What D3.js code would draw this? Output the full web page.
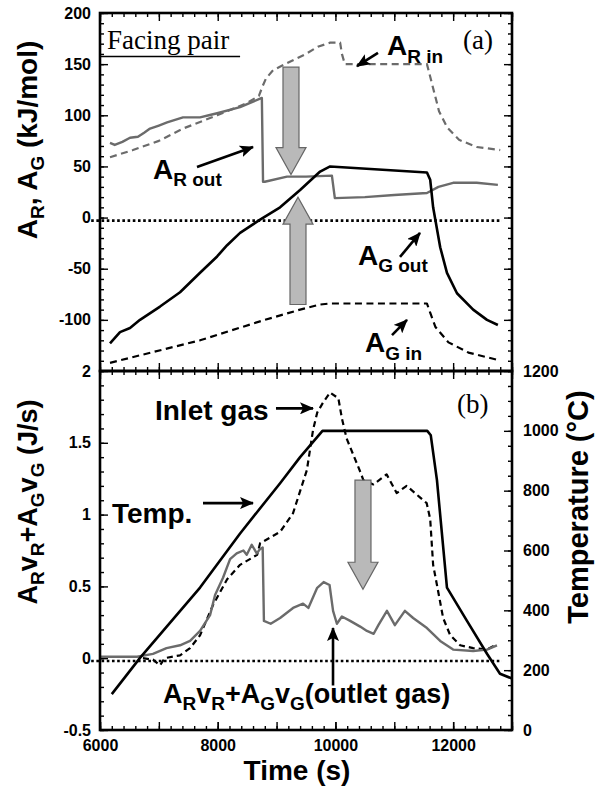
<!DOCTYPE html>
<html>
<head>
<meta charset="utf-8">
<script src="https://cdn.jsdelivr.net/npm/d3@7"></script>
<style>
  body { margin: 0; background: #fff; }
  svg text { font-family: "Liberation Sans", Arial, sans-serif; font-weight: bold; fill: #000; }
  svg text.serif { font-family: "Liberation Serif", "Times New Roman", serif; font-weight: normal; }
</style>
</head>
<body>
<svg id="chart" width="597" height="789"></svg>
<script>
// ---- data: [time (s), value] ----
// panel (a), kJ/mol
const arIn = [[6170,59],[6560,66],[7000,75],[7410,87],[7990,100],[8500,112],[8700,119],[8760,128],
  [8820,136],[8940,144],[9180,151],[9500,160],[9700,167],[9910,171],[10080,171],[10110,160],
  [10160,150],[11555,150],[11600,140],[11680,122],[11760,104],[11900,88],[12100,76],[12400,69],[12800,66]];
const arOut = [[6170,73],[6250,71],[6380,74],[6510,78],[6645,79],[6750,83],[6850,87],[7000,90],
  [7140,93],[7410,98],[7700,98],[7850,100],[7990,102],[8380,108],[8750,117],[8770,35],[8800,35],
  [9177,40],[9500,40],[9940,41],[9990,19],[10500,20],[11000,22],[11555,24],[11750,30],[12000,34],
  [12400,34],[12760,32]];
const agOut = [[6170,-123],[6340,-112],[6510,-108],[6680,-100],[7020,-87],[7360,-73],[7700,-54],
  [7990,-38],[8160,-27],[8380,-15],[8720,-2],[9060,10],[9400,27],[9740,45],[9910,50],[11555,44],
  [11610,37],[11660,10],[11780,-29],[11895,-54],[12065,-74],[12340,-90],[12575,-100],[12760,-105]];
const agIn = [[6170,-142],[7700,-120],[8800,-100],[9400,-90],[9740,-85],[9900,-84],[11555,-84],
  [11610,-93],[11700,-107],[11920,-122],[12260,-132],[12745,-139]];
const zeroA = [[5850,-3],[12830,-3]];

// panel (b), J/s
const inletGas = [[6730,0],[6900,-0.01],[7020,-0.05],[7100,0],[7360,0.02],[7530,0.07],[7700,0.16],
  [7920,0.37],[8160,0.55],[8380,0.65],[8670,0.72],[8720,0.8],[9060,0.88],[9280,1.01],[9515,1.31],
  [9620,1.59],[9690,1.71],[9790,1.78],[9910,1.85],[10050,1.81],[10110,1.67],[10190,1.53],
  [10420,1.3],[10475,1.24],[10645,1.21],[10870,1.28],[11040,1.15],[11210,1.2],[11436,1.12],
  [11550,1.08],[11610,0.97],[11660,0.65],[11725,0.51],[11830,0.28],[11950,0.16],[12120,0.09],
  [12340,0.07],[12575,0.06],[12710,0.09]];
const outletGas = [[6000,0.01],[6630,0.01],[6900,0.03],[7130,0.07],[7360,0.09],[7530,0.12],
  [7700,0.19],[7870,0.3],[7955,0.44],[8090,0.56],[8210,0.69],[8322,0.73],[8436,0.75],[8493,0.72],
  [8578,0.79],[8663,0.73],[8720,0.76],[8764,0.77],[8785,0.26],[8900,0.24],[9060,0.28],[9280,0.35],
  [9450,0.38],[9540,0.35],[9690,0.49],[9800,0.53],[9900,0.51],[9960,0.33],[10025,0.24],[10110,0.29],
  [10250,0.26],[10420,0.22],[10535,0.19],[10650,0.17],[10730,0.23],[10875,0.33],[11010,0.23],
  [11180,0.33],[11320,0.28],[11555,0.21],[11780,0.12],[12000,0.06],[12340,0.05],[12575,0.06],[12745,0.09]];
const zeroB = [[5850,-0.02],[12830,-0.02]];
// panel (b), temperature in deg C (right axis)
const temp = [[6200,120],[6680,241],[7700,476],[8380,657],[9060,825],[9400,912],[9780,1000],
  [11560,1000],[11620,985],[11725,835],[11895,476],[12235,365],[12575,255],[12796,188],[13000,172]];

// tick values
const xMajor = d3.range(6000, 13001, 1000);
const xMinor = d3.range(6000, 13001, 200);
const xLabels = [6000, 8000, 10000, 12000];
const aMajor = [-100, -50, 0, 50, 100, 150, 200];
const aMinor = d3.range(-150, 201, 10);
const pMajor = [-0.5, 0, 0.5, 1, 1.5, 2];
const pMinor = d3.range(-5, 21, 1).map(d => d / 10);
const tMajor = d3.range(0, 1201, 200);
const tMinor = d3.range(0, 1201, 50);

// annotations (data coordinates)
const blockArrows = [
  {panel: "a", t: 9245, from: 147, to: 42},
  {panel: "a", t: 9364, from: -85, to: 20},
  {panel: "b", t: 10468, from: 1.24, to: 0.48}
];
const thinArrows = [
  {panel: "a", t0: 7648, v0: 49.5, t1: 8600, v1: 69},
  {panel: "a", t0: 10723, v0: 161, t1: 10366, v1: 148},
  {panel: "a", t0: 11097, v0: -38.5, t1: 11437, v1: -15},
  {panel: "a", t0: 10961, v0: -115, t1: 11216, v1: -100},
  {panel: "b", t0: 8990, v0: 1.74, t1: 9619, v1: 1.74},
  {panel: "b", t0: 7750, v0: 1.08, t1: 8600, v1: 1.08},
  {panel: "b", t0: 9959, v0: -0.19, t1: 9959, v1: 0.21}
];

(function () {
  const svg = d3.select("#chart");
  const L = 100, R = 512, T = 13, M = 371, B = 730;
  const FONT = "Liberation Sans, Arial, sans-serif";

  const x = d3.scaleLinear().domain([6000, 13000]).range([L, R]);
  const yA = d3.scaleLinear().domain([-150, 200]).range([M, T]);
  const yP = d3.scaleLinear().domain([-0.5, 2]).range([B, M]);
  const yT = d3.scaleLinear().domain([0, 1200]).range([B, M]);
  const yOf = p => p === "a" ? yA : yP;

  const defs = svg.append("defs");
  defs.append("marker")
    .attr("id", "head")
    .attr("viewBox", "0 0 14 12")
    .attr("refX", 13).attr("refY", 6)
    .attr("markerWidth", 14).attr("markerHeight", 12)
    .attr("markerUnits", "userSpaceOnUse")
    .attr("orient", "auto")
    .append("path").attr("d", "M0,0 L14,6 L0,12 L3,6 z").attr("fill", "#000");

  function axis(gen, tx, ty, values, size, fmt, pad) {
    const g = svg.append("g").attr("transform", `translate(${tx},${ty})`)
      .call(gen.tickValues(values).tickSize(size).tickPadding(pad || 9)
        .tickFormat(fmt || (() => "")));
    g.select(".domain").remove();
    g.attr("font-size", 16).attr("font-family", FONT).attr("font-weight", "bold");
    g.selectAll(".tick line").attr("stroke", "#000").attr("stroke-width", 1.4);
    g.selectAll(".tick text").attr("fill", "#000");
    return g;
  }
  const num = d => String(d);

  // panel (a) ticks
  axis(d3.axisLeft(yA), L, 0, aMinor, -4);
  axis(d3.axisLeft(yA), L, 0, aMajor, -8, num, 9);
  axis(d3.axisRight(yA), R, 0, aMinor, -4);
  axis(d3.axisRight(yA), R, 0, aMajor, -8);
  axis(d3.axisTop(x), 0, T, xMinor, -4);
  axis(d3.axisTop(x), 0, T, xMajor, -8);
  axis(d3.axisBottom(x), 0, M, xMinor, -4);
  axis(d3.axisBottom(x), 0, M, xMajor, -8);

  // panel (b) ticks
  axis(d3.axisLeft(yP), L, 0, pMinor, -4);
  axis(d3.axisLeft(yP), L, 0, pMajor, -8, num, 9);
  axis(d3.axisRight(yT), R, 0, tMinor, -4);
  axis(d3.axisRight(yT), R, 0, tMajor, -8, num, 11);
  axis(d3.axisTop(x), 0, M, xMinor, -4);
  axis(d3.axisTop(x), 0, M, xMajor, -8);
  axis(d3.axisBottom(x), 0, B, xMinor, -4);
  axis(d3.axisBottom(x), 0, B, xMajor, -8);
  axis(d3.axisBottom(x), 0, B, xLabels, -8, num, 10);

  // series
  const lineA = d3.line().x(d => x(d[0])).y(d => yA(d[1]));
  const lineP = d3.line().x(d => x(d[0])).y(d => yP(d[1]));
  const lineT = d3.line().x(d => x(d[0])).y(d => yT(d[1]));
  const gray = "#6b6b6b";

  function path(data, gen, color, width, dash) {
    svg.append("path").datum(data).attr("d", gen)
      .attr("fill", "none").attr("stroke", color).attr("stroke-width", width)
      .attr("stroke-dasharray", dash || null)
      .attr("stroke-linejoin", "round");
  }

  path(zeroA, lineA, "#000", 2.6, "2.6,2.6");
  path(agIn, lineA, "#000", 2.2, "7,4.5");
  path(arIn, lineA, gray, 2.2, "7,4.5");
  path(arOut, lineA, gray, 2.4);
  path(agOut, lineA, "#000", 2.6);

  path(zeroB, lineP, "#000", 2.6, "2.6,2.6");
  path(inletGas, lineP, "#000", 2.2, "6,4");
  path(outletGas, lineP, gray, 2.4);
  path(temp, lineT, "#000", 2.6);

  // block arrows
  const shaft = 8, head = 15, headLen = 27;
  blockArrows.forEach(a => {
    const y = yOf(a.panel);
    const cx = x(a.t), y0 = y(a.from), y1 = y(a.to);
    const dir = Math.sign(y1 - y0), yb = y1 - dir * headLen;
    const pts = [[cx - shaft, y0], [cx + shaft, y0], [cx + shaft, yb], [cx + head, yb],
      [cx, y1], [cx - head, yb], [cx - shaft, yb]];
    svg.append("polygon").attr("points", pts.map(p => p.join(",")).join(" "))
      .attr("fill", "#b9b9b9").attr("stroke", "#666").attr("stroke-width", 1.2);
  });

  // thin arrows
  thinArrows.forEach(a => {
    const y = yOf(a.panel);
    svg.append("line")
      .attr("x1", x(a.t0)).attr("y1", y(a.v0))
      .attr("x2", x(a.t1)).attr("y2", y(a.v1))
      .attr("stroke", "#000").attr("stroke-width", 2.6)
      .attr("marker-end", "url(#head)");
  });

  // text with subscripts: parts = [[text, isSub], ...]
  function rich(g, parts, size, subSize, shift) {
    let off = 0;
    parts.forEach(p => {
      const want = p[1] ? shift : 0;
      g.append("tspan").attr("dy", want - off)
        .attr("font-size", p[1] ? subSize : size).text(p[0]);
      off = want;
    });
  }
  function note(parts, t, v, panel, size, subSize, shift) {
    const g = svg.append("text").attr("x", x(t)).attr("y", yOf(panel)(v)).attr("font-size", size);
    rich(g, parts, size, subSize, shift);
    return g;
  }

  note([["A", 0], ["R in", 1]], 10876, 159, "a", 28, 19, 8);
  note([["A", 0], ["R out", 1]], 6900, 37.7, "a", 28, 19, 7);
  note([["A", 0], ["G out", 1]], 10383, -46, "a", 28, 19, 7);
  note([["A", 0], ["G in", 1]], 10502, -131, "a", 28, 19, 8);
  note([["Inlet gas", 0]], 6934, 1.66, "b", 28, 19, 7);
  note([["Temp.", 0]], 6204, 0.94, "b", 28, 19, 7);
  note([["A", 0], ["R", 1], ["v", 0], ["R", 1], ["+A", 0], ["G", 1], ["v", 0], ["G", 1], ["(outlet gas)", 0]],
    7070, -0.31, "b", 27, 19, 7);

  // serif labels
  svg.append("text").attr("class", "serif").attr("x", x(6119)).attr("y", yA(165))
    .attr("font-size", 27).text("Facing pair");
  svg.append("line").attr("x1", L).attr("x2", x(8380)).attr("y1", yA(157.5)).attr("y2", yA(157.5))
    .attr("stroke", "#000").attr("stroke-width", 1.6);
  svg.append("text").attr("class", "serif").attr("x", x(12167)).attr("y", yA(165))
    .attr("font-size", 27).text("(a)");
  svg.append("text").attr("class", "serif").attr("x", x(12065)).attr("y", yP(1.71))
    .attr("font-size", 27).text("(b)");

  // frames
  svg.append("rect").attr("x", L).attr("y", T).attr("width", R - L).attr("height", M - T)
    .attr("fill", "none").attr("stroke", "#000").attr("stroke-width", 2.6);
  svg.append("rect").attr("x", L).attr("y", M).attr("width", R - L).attr("height", B - M)
    .attr("fill", "none").attr("stroke", "#000").attr("stroke-width", 2.6);

  // axis titles
  const ta = svg.append("text").attr("transform", "translate(37,140) rotate(-90)")
    .attr("text-anchor", "middle").attr("font-size", 28);
  rich(ta, [["A", 0], ["R", 1], [", A", 0], ["G", 1], [" (kJ/mol)", 0]], 28, 19, 7);

  const tb = svg.append("text").attr("transform", "translate(37,502) rotate(-90)")
    .attr("text-anchor", "middle").attr("font-size", 27);
  rich(tb, [["A", 0], ["R", 1], ["v", 0], ["R", 1], ["+A", 0], ["G", 1], ["v", 0], ["G", 1], [" (J/s)", 0]], 27, 19, 7);

  svg.append("text").attr("transform", "translate(588,507) rotate(-90)")
    .attr("text-anchor", "middle").attr("font-size", 29).text("Temperature (\u00B0C)");

  svg.append("text").attr("x", 297).attr("y", 780).attr("text-anchor", "middle")
    .attr("font-size", 28).text("Time (s)");
})();
</script>
</body>
</html>
